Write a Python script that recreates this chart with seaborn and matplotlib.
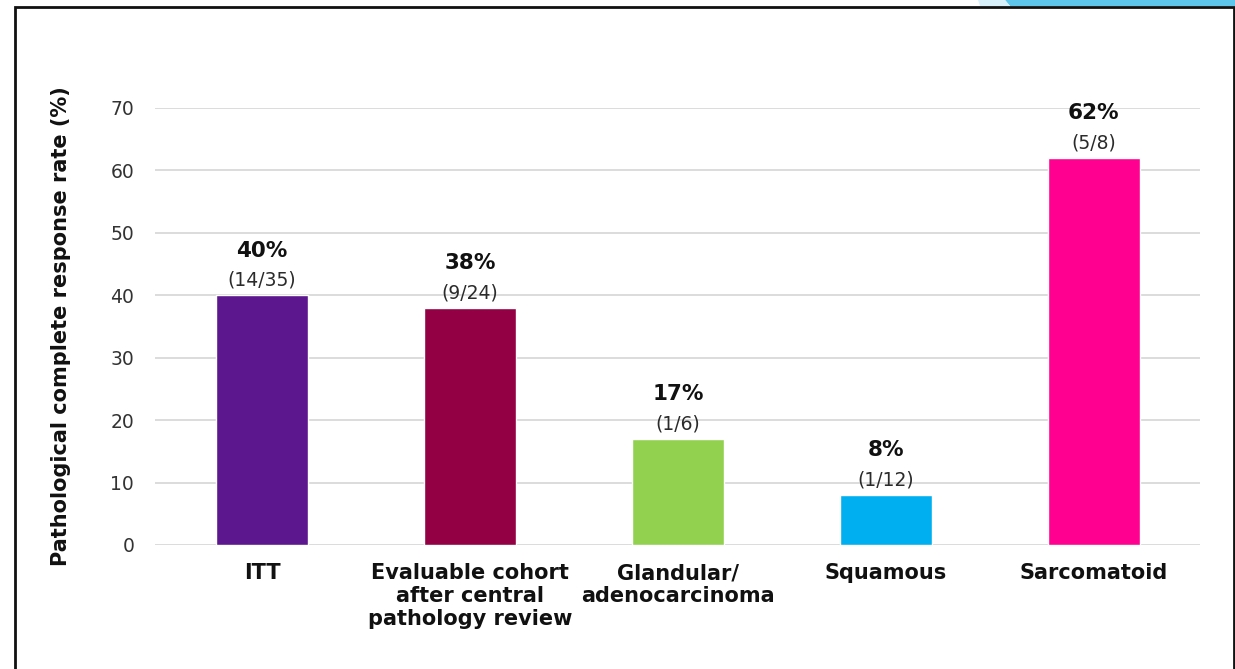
import matplotlib
matplotlib.use("Agg")
import matplotlib.pyplot as plt
import seaborn as sns
import pandas as pd
from matplotlib.patches import Rectangle, Polygon

categories = ["ITT", "Evaluable cohort\nafter central\npathology review",
              "Glandular/\nadenocarcinoma", "Squamous", "Sarcomatoid"]
rates = [40, 38, 17, 8, 62]
pct_labels = ["40%", "38%", "17%", "8%", "62%"]
count_labels = ["(14/35)", "(9/24)", "(1/6)", "(1/12)", "(5/8)"]
colors = ["#5C178E", "#930043", "#92D14F", "#00AFEF", "#FF0090"]
y_ticks = [0, 10, 20, 30, 40, 50, 60, 70]

sns.set_theme(style="white")
plt.rcParams["font.family"] = ["DejaVu Sans"]

df = pd.DataFrame({"group": categories, "rate": rates})

fig = plt.figure(figsize=(12.35, 6.69), dpi=100)
ax = fig.add_axes([0.1255, 0.1854, 0.846, 0.6532])

sns.barplot(data=df, x="group", y="rate", hue="group", palette=colors,
            legend=False, width=0.44, saturation=1, ax=ax, zorder=3)

ax.set_ylim(0, 70)
ax.set_xlim(-0.515, 4.51)
ax.set_yticks(y_ticks)
ax.set_yticklabels([str(t) for t in y_ticks], fontsize=13.5, color="#333333")
ax.yaxis.grid(True, color="#D9D9D9", linewidth=1.3, zorder=0)
ax.set_axisbelow(True)
for s in ax.spines.values():
    s.set_visible(False)
ax.tick_params(axis="both", length=0)
ax.tick_params(axis="y", pad=15)
ax.tick_params(axis="x", pad=13)
ax.set_xlabel("")
ax.set_xticks(range(len(categories)))
ax.set_xticklabels(categories, fontsize=15, fontweight="bold", color="#111111",
                   linespacing=1.2, va="top")
ax.set_ylabel("Pathological complete response rate (%)", fontsize=15,
              fontweight="bold", color="#111111", labelpad=28)

for i, (v, p, c) in enumerate(zip(rates, pct_labels, count_labels)):
    ax.annotate(c, (i, v), xytext=(0, 4), textcoords="offset points",
                ha="center", va="bottom", fontsize=13.5, color="#2B2B2B")
    ax.annotate(p, (i, v), xytext=(0, 25), textcoords="offset points",
                ha="center", va="bottom", fontsize=15.5, fontweight="bold",
                color="#111111")

# slide frame and top-right ribbon
fig.patches.append(Rectangle((15 / 1235, -0.05), (1234 - 15) / 1235, 1.05 - 7 / 669,
                             transform=fig.transFigure, fill=False,
                             edgecolor="#111111", linewidth=2))
fig.patches.append(Polygon([(1005 / 1235, 1), (1235 / 1235, 1), (1235 / 1235, 1 - 6 / 669),
                            (1010 / 1235, 1 - 6 / 669)], closed=True,
                           transform=fig.transFigure, facecolor="#5EC6EA",
                           edgecolor="none"))
fig.patches.append(Polygon([(978 / 1235, 1), (1005 / 1235, 1), (1010 / 1235, 1 - 6 / 669),
                            (980 / 1235, 1 - 6 / 669)], closed=True,
                           transform=fig.transFigure, facecolor="#D7F0FA",
                           edgecolor="none"))

fig.savefig("out.png", dpi=100, facecolor="white")
